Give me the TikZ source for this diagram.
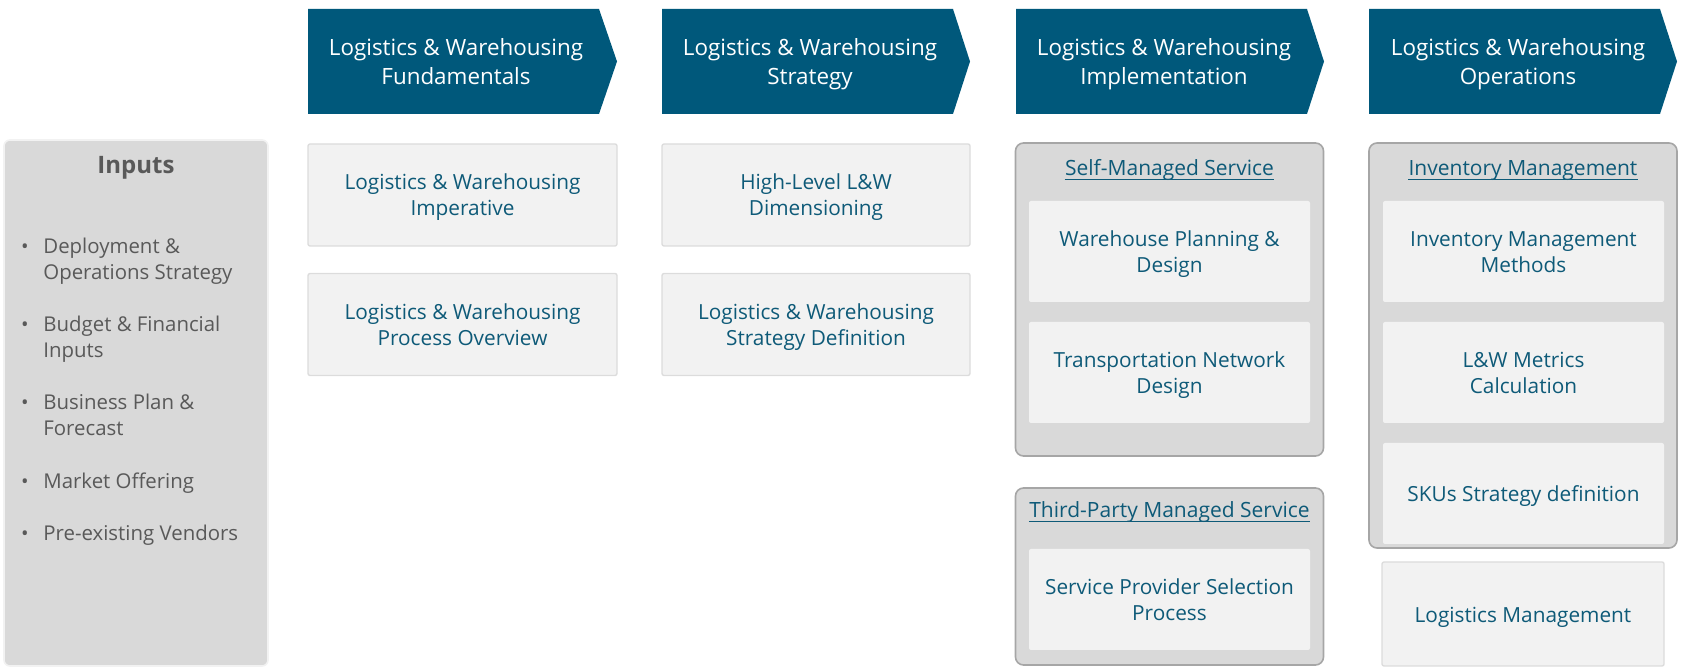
\documentclass[tikz,border=0pt]{standalone}
\usepackage{fontspec}
\setmainfont{Open Sans}
\usetikzlibrary{positioning}
\definecolor{lw-teal}{HTML}{00587B}
\definecolor{lw-ink}{HTML}{0E5A78}
\definecolor{lw-card}{HTML}{F2F2F2}
\definecolor{lw-cardline}{HTML}{DCDCDC}
\definecolor{lw-group}{HTML}{D9D9D9}
\definecolor{lw-groupline}{HTML}{A6A6A6}
\definecolor{lw-grey}{HTML}{595959}
\newcommand\lwstrut{\rule[-0.16\baselineskip]{0pt}{\baselineskip}}
\newcommand\lwtop{\rule{0pt}{1.78\baselineskip}}
\newcommand\lwbot{\rule[-0.2\baselineskip]{0pt}{0.2\baselineskip}}

\tikzset{
  twoline/.style={execute at begin node=\lwtop, execute at end node=\lwbot},
  oneline/.style={execute at begin node=\lwstrut, execute at end node=\lwstrut},
  chevtext/.style={twoline, text=white, align=center, inner sep=0pt,
    font=\fontsize{11.2}{14.5}\selectfont},
  cardbase/.style={rectangle, fill=lw-card, draw=lw-cardline, line width=0.7pt,
    rounded corners=1pt, text=lw-ink, align=center, inner sep=0pt,
    font=\fontsize{10.4}{13}\selectfont, minimum width=154pt, minimum height=51pt},
  card/.style={cardbase, twoline},
  inner base/.style={cardbase, draw=none, minimum width=140.5pt, minimum height=50.5pt},
  inner card/.style={inner base, twoline},
  group/.style={rectangle, fill=lw-group, draw=lw-groupline, line width=0.8pt,
    rounded corners=4pt, minimum width=154pt},
  grouptitle/.style={text=lw-ink, inner sep=0pt, font=\fontsize{10.5}{13}\selectfont},
  initem/.style={anchor=north west, align=left, inner sep=0pt, text=lw-grey,
    font=\fontsize{10.2}{13}\selectfont,
    label={[anchor=north east, inner sep=0pt, xshift=-7pt, yshift=-3pt, text=lw-grey]north west:\textbullet}}
}

\begin{document}
\begin{tikzpicture}[x=0.5pt, y=-0.5pt, line join=round]
  \useasboundingbox (0,0) rectangle (1694,672);

  % phase chevrons
  \fill[lw-teal] (308,9) -- (599,9) -- (617,61.5) -- (599,114) -- (308,114) -- cycle;
  \fill[lw-teal] (662,9) -- (953,9) -- (970,61.5) -- (953,114) -- (662,114) -- cycle;
  \fill[lw-teal] (1016,9) -- (1307,9) -- (1324,61.5) -- (1307,114) -- (1016,114) -- cycle;
  \fill[lw-teal] (1369,9) -- (1660,9) -- (1677,61.5) -- (1660,114) -- (1369,114) -- cycle;
  \node[chevtext] (fund) at (456,61.5) {Logistics \& Warehousing\\Fundamentals};
  \node[chevtext] (strat) at (810,61.5) {Logistics \& Warehousing\\Strategy};
  \node[chevtext] (impl) at (1164,61.5) {Logistics \& Warehousing\\Implementation};
  \node[chevtext] (ops) at (1518,61.5) {Logistics \& Warehousing\\Operations};

  % inputs
  \node[rectangle, fill=lw-group, draw=lw-card, line width=0.8pt, rounded corners=3pt,
    minimum width=132pt, minimum height=263pt] (inputs) at (136,403) {};
  \node[text=lw-grey, font=\fontsize{12}{14}\selectfont\bfseries] (intitle) at (136,167.5) {Inputs};
  \node[initem] (in1) at (43,237.5) {Deployment \&\\Operations Strategy};
  \node[initem] (in2) at (43,315.5) {Budget \& Financial\\Inputs};
  \node[initem] (in3) at (43,393.5) {Business Plan \&\\Forecast};
  \node[initem] (in4) at (43,472.5) {Market Offering};
  \node[initem] (in5) at (43,524.5) {Pre-existing Vendors};

  % fundamentals
  \node[card, minimum width=154.5pt] (imper) at (462.5,195) {Logistics \& Warehousing\\Imperative};
  \node[card, minimum width=154.5pt] (overview) at (462.5,324.5) {Logistics \& Warehousing\\Process Overview};

  % strategy
  \node[card] (dimens) at (816,195) {High-Level L\&W\\Dimensioning};
  \node[card] (stdef) at (816,324.5) {Logistics \& Warehousing\\Strategy Definition};

  % implementation
  \node[group, minimum height=156.5pt] (selfg) at (1169.5,299.5) {};
  \node[grouptitle, anchor=base] (selft) at (1169.5,176) {Self-Managed Service};
  \node[inner card] (whplan) at (1169.5,251.5) {Warehouse Planning \&\\Design};
  \node[inner card] (transp) at (1169.5,372.5) {Transportation Network\\Design};
  \node[group, minimum height=88.5pt] (thirdg) at (1169.5,576.5) {};
  \node[grouptitle, anchor=base] (thirdt) at (1169.5,518) {Third-Party Managed Service};
  \node[inner card] (provsel) at (1169.5,599.5) {Service Provider Selection\\Process};

  % operations
  \node[group, minimum height=202.5pt] (invg) at (1523,345.5) {};
  \node[grouptitle, anchor=base] (invt) at (1523,176) {Inventory Management};
  \node[inner card] (invmeth) at (1523.5,251.5) {Inventory Management\\Methods};
  \node[inner card] (metrics) at (1523.5,372.5) {L\&W Metrics\\Calculation};
  \node[inner base, oneline] (skus) at (1523.5,493.5) {SKUs Strategy definition};
  \node[cardbase, oneline, minimum width=141pt, minimum height=52pt] (logman) at (1523,614) {Logistics Management};

  % title underlines
  \draw[lw-ink, line width=0.5pt] ([yshift=-1.6pt]selft.base west) -- ([yshift=-1.6pt]selft.base east);
  \draw[lw-ink, line width=0.5pt] ([yshift=-1.6pt]thirdt.base west) -- ([yshift=-1.6pt]thirdt.base east);
  \draw[lw-ink, line width=0.5pt] ([yshift=-1.6pt]invt.base west) -- ([yshift=-1.6pt]invt.base east);
\end{tikzpicture}
\end{document}
